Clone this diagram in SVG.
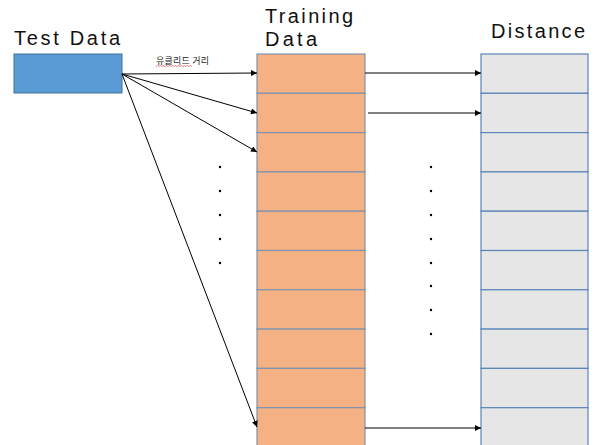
<svg xmlns="http://www.w3.org/2000/svg" width="598" height="445" viewBox="0 0 598 445">
<defs>
<marker id="ah" viewBox="0 0 10 10" refX="10" refY="5" markerWidth="8" markerHeight="6" markerUnits="userSpaceOnUse" orient="auto"><path d="M0,0L10,5L0,10z" fill="#000"/></marker>
<style>
.t{font-family:"Liberation Sans","Noto Sans CJK KR",sans-serif;fill:#111;font-size:20px}
.tr rect{fill:#F4B183;stroke:#7F93B0;stroke-width:1.2}
.ds rect{fill:#E6E6E6;stroke:#5B86B8;stroke-width:1.2}
.c line{stroke:#000;stroke-width:1;marker-end:url(#ah)}
.dot{fill:#000}
</style>
</defs>
<rect width="598" height="445" fill="#fff"/>
<g id="test-data">
<rect x="14" y="54" width="108" height="39" fill="#5B9BD5" stroke="#41719C" stroke-width="1"/>
<text class="t" x="14" y="45" textLength="106" lengthAdjust="spacing">Test Data</text>
</g>
<g id="training-data" class="tr">
<text class="t" x="265" y="23" textLength="88" lengthAdjust="spacing">Training</text>
<text class="t" x="265" y="46" textLength="52" lengthAdjust="spacing">Data</text>
<rect x="257" y="54" width="108" height="39.3"/>
<rect x="257" y="93.3" width="108" height="39.3"/>
<rect x="257" y="132.6" width="108" height="39.3"/>
<rect x="257" y="171.9" width="108" height="39.3"/>
<rect x="257" y="211.2" width="108" height="39.3"/>
<rect x="257" y="250.5" width="108" height="39.3"/>
<rect x="257" y="289.8" width="108" height="39.3"/>
<rect x="257" y="329.1" width="108" height="39.3"/>
<rect x="257" y="368.4" width="108" height="39.3"/>
<rect x="257" y="407.7" width="108" height="39.3"/>
</g>
<g id="distance" class="ds">
<text class="t" x="491" y="38" textLength="94" lengthAdjust="spacing">Distance</text>
<rect x="481" y="54" width="107" height="39.3"/>
<rect x="481" y="93.3" width="107" height="39.3"/>
<rect x="481" y="132.6" width="107" height="39.3"/>
<rect x="481" y="171.9" width="107" height="39.3"/>
<rect x="481" y="211.2" width="107" height="39.3"/>
<rect x="481" y="250.5" width="107" height="39.3"/>
<rect x="481" y="289.8" width="107" height="39.3"/>
<rect x="481" y="329.1" width="107" height="39.3"/>
<rect x="481" y="368.4" width="107" height="39.3"/>
<rect x="481" y="407.7" width="107" height="39.3"/>
</g>
<g id="dots-left">
<circle class="dot" cx="220" cy="167" r="1.2"/>
<circle class="dot" cx="220" cy="191" r="1.2"/>
<circle class="dot" cx="220" cy="215" r="1.2"/>
<circle class="dot" cx="220" cy="239" r="1.2"/>
<circle class="dot" cx="220" cy="263" r="1.2"/>
</g>
<g id="dots-right">
<circle class="dot" cx="431" cy="167" r="1.2"/>
<circle class="dot" cx="431" cy="191" r="1.2"/>
<circle class="dot" cx="431" cy="215" r="1.2"/>
<circle class="dot" cx="431" cy="239" r="1.2"/>
<circle class="dot" cx="431" cy="263" r="1.2"/>
<circle class="dot" cx="431" cy="286" r="1.2"/>
<circle class="dot" cx="431" cy="310" r="1.2"/>
<circle class="dot" cx="431" cy="334" r="1.2"/>
</g>
<g id="connectors" class="c">
<line x1="122" y1="74" x2="257" y2="73"/>
<line x1="122" y1="74" x2="257" y2="113"/>
<line x1="122" y1="74" x2="257" y2="152"/>
<line x1="122" y1="74" x2="257" y2="427"/>
<line x1="365" y1="73" x2="481" y2="73"/>
<line x1="368" y1="113" x2="481" y2="113"/>
<line x1="365" y1="428" x2="481" y2="428"/>
<text x="156" y="64" font-family="'Noto Sans CJK KR','Noto Sans',sans-serif" font-size="9" fill="#222" textLength="53" lengthAdjust="spacing">유클리드 거리</text>
<path d="M156,66.5 l1.5,-1 l1.5,1 l1.5,-1 l1.5,1 l1.5,-1 l1.5,1 l1.5,-1 l1.5,1 l1.5,-1 l1.5,1 l1.5,-1 l1.5,1 l1.5,-1 l1.5,1 l1.5,-1 l1.5,1 l1.5,-1 l1.5,1 l1.5,-1 l1.5,1 l1.5,-1 l1.5,1 l1.5,-1 l1.5,1" fill="none" stroke="#e03030" stroke-width="0.6"/>
</g>
</svg>
